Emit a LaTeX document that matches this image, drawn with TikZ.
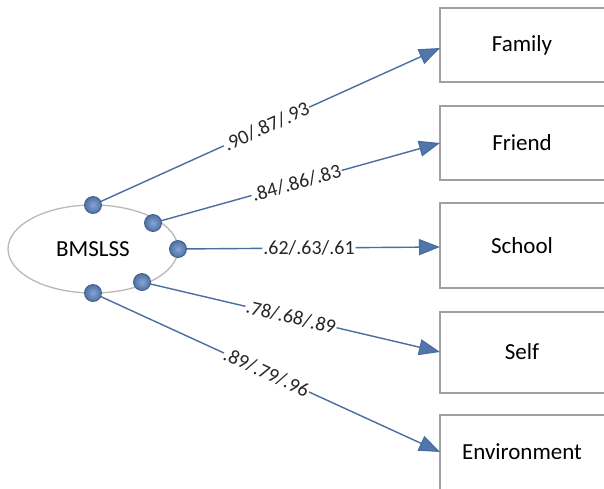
\documentclass[tikz,border=0pt]{standalone}
\usepackage{fontspec}
\setmainfont{Carlito}
\usetikzlibrary{arrows.meta,shapes.geometric}
\definecolor{linkblue}{RGB}{74,110,160}
\definecolor{dotin}{RGB}{135,165,210}
\definecolor{dotout}{RGB}{78,112,165}
\definecolor{tipblue}{RGB}{80,118,172}
\definecolor{boxgray}{RGB}{160,160,160}
\definecolor{ellgray}{RGB}{185,185,185}
\tikzset{
  itembox/.style={draw=boxgray, line width=1.3pt, fill=white, inner sep=0pt},
  itemtext/.style={font=\fontsize{23}{26}\selectfont, text=black},
  dotball/.style={circle, minimum size=17pt, inner sep=0pt, inner color=dotin, outer color=dotout, draw=linkblue!85!black, line width=0.8pt},
  link/.style={draw=linkblue, line width=1.4pt, -{Triangle[length=21pt,width=16pt,fill=tipblue]}},
  coef/.style={sloped, pos=0.5, fill=white, inner sep=1pt, font=\fontsize{20}{22}\selectfont, text=black!85}
}
\begin{document}
\begin{tikzpicture}[x=1pt,y=-1pt]
\useasboundingbox (0,0) rectangle (604,488);
\clip (0,0) rectangle (604,488);
\fill[white] (0,0) rectangle (604,488);
% boxes
\draw[itembox] (440,8) rectangle (620,82);
\draw[itembox] (440,106) rectangle (620,180);
\draw[itembox] (440,203) rectangle (620,288);
\draw[itembox] (440,312) rectangle (620,393);
\draw[itembox] (440,415) rectangle (620,500);
\node[itemtext] (family) at (522,45) {Family};
\node[itemtext] (friend) at (522,143) {Friend};
\node[itemtext] (school) at (522,246) {School};
\node[itemtext] (self) at (522,352) {Self};
\node[itemtext] (env) at (522,452) {Environment};
\coordinate (tFamily) at (440,48);
\coordinate (tFriend) at (440,143);
\coordinate (tSchool) at (440,247);
\coordinate (tSelf) at (440,352);
\coordinate (tEnv) at (440,452);
% ellipse
\node[ellipse, draw=ellgray, line width=1.3pt, minimum width=170pt, minimum height=88pt, inner sep=0pt,
      font=\fontsize{23}{26}\selectfont] (bm) at (93,249) {BMSLSS};
% dot positions
\coordinate (d1) at (93,205);
\coordinate (d2) at (153,223);
\coordinate (d3) at (178,249);
\coordinate (d4) at (142,282);
\coordinate (d5) at (93,293);
% links
\draw[link] (d1) -- node[coef] {.90/.87/.93} (tFamily);
\draw[link] (d2) -- node[coef] {.84/.86/.83} (tFriend);
\draw[link] (d3) -- node[coef] {.62/.63/.61} (tSchool);
\draw[link] (d4) -- node[coef] {.78/.68/.89} (tSelf);
\draw[link] (d5) -- node[coef] {.89/.79/.96} (tEnv);
% dots
\node[dotball] (b1) at (d1) {};
\node[dotball] (b2) at (d2) {};
\node[dotball] (b3) at (d3) {};
\node[dotball] (b4) at (d4) {};
\node[dotball] (b5) at (d5) {};
\end{tikzpicture}
\end{document}
